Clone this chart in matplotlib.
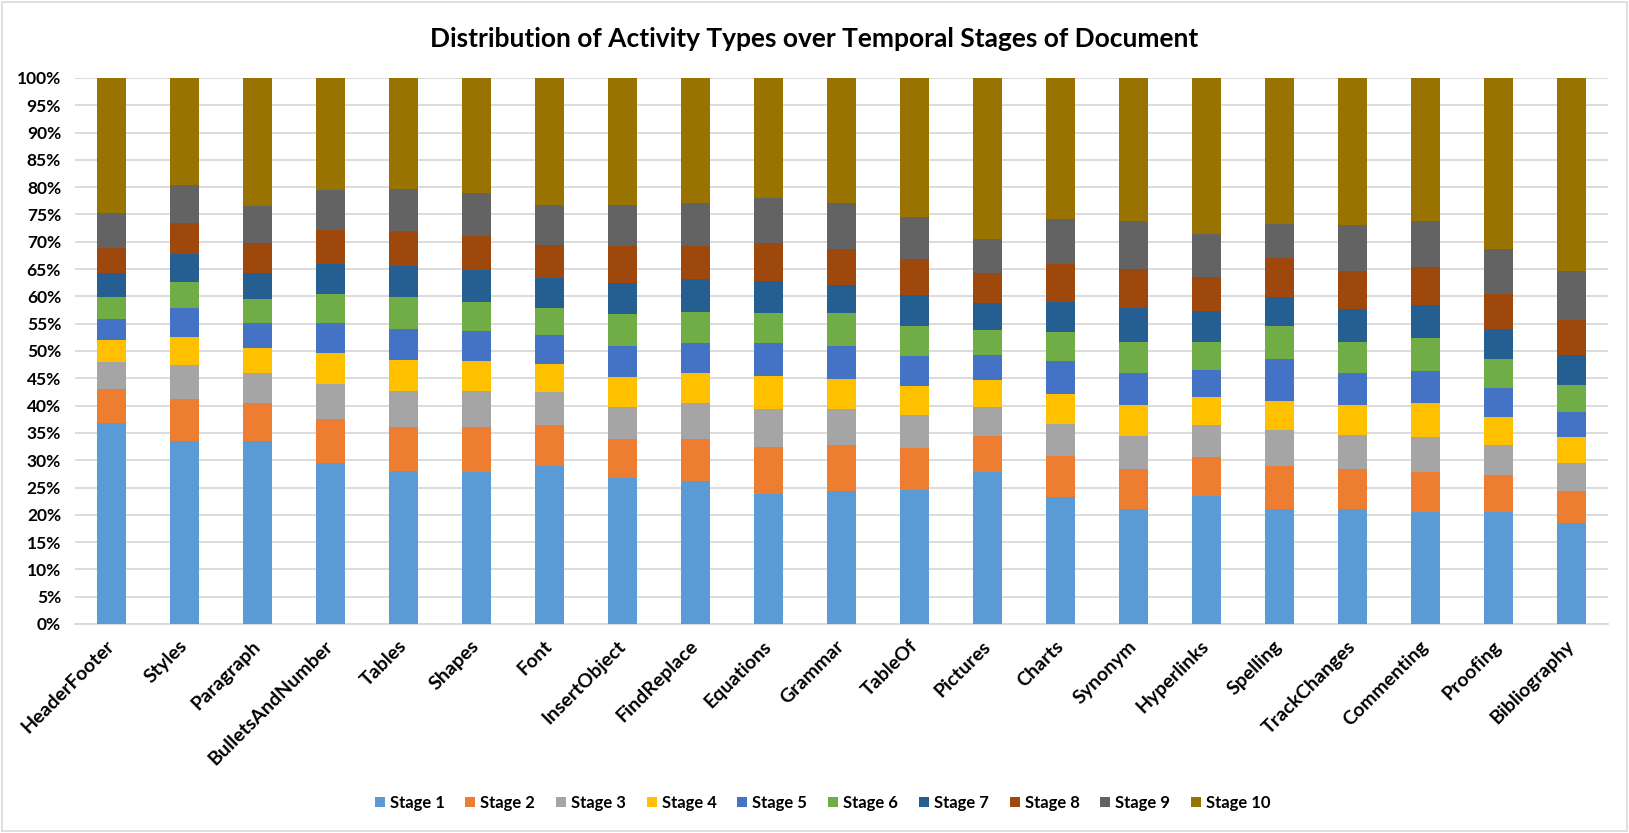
import matplotlib
matplotlib.use("Agg")
import matplotlib.pyplot as plt
from matplotlib.patches import Rectangle
from matplotlib.ticker import FuncFormatter, MultipleLocator
import numpy as np

plt.rcParams['font.family'] = ['Lato', 'DejaVu Sans']

categories = ["HeaderFooter", "Styles", "Paragraph", "BulletsAndNumber", "Tables", "Shapes",
              "Font", "InsertObject", "FindReplace", "Equations", "Grammar", "TableOf",
              "Pictures", "Charts", "Synonym", "Hyperlinks", "Spelling", "TrackChanges",
              "Commenting", "Proofing", "Bibliography"]

stage1 = [36.9, 33.6, 33.6, 29.4, 28.0, 27.9, 29.0, 26.8, 26.2, 23.9, 24.4, 24.6, 27.9, 23.2, 21.0, 23.5, 21.1, 21.1, 20.6, 20.6, 18.5]
stage2 = [6.2, 7.7, 6.9, 8.2, 8.1, 8.2, 7.5, 7.1, 7.7, 8.6, 8.4, 7.7, 6.6, 7.6, 7.3, 7.1, 7.9, 7.3, 7.3, 6.6, 5.9]
stage3 = [4.8, 6.1, 5.4, 6.4, 6.6, 6.5, 5.9, 5.8, 6.5, 6.8, 6.5, 6.0, 5.3, 5.9, 6.2, 5.8, 6.6, 6.2, 6.3, 5.6, 5.0]
stage4 = [4.2, 5.2, 4.7, 5.7, 5.7, 5.6, 5.3, 5.6, 5.6, 6.2, 5.5, 5.3, 4.8, 5.5, 5.7, 5.1, 5.2, 5.5, 6.2, 5.2, 4.8]
stage5 = [3.8, 5.2, 4.5, 5.4, 5.7, 5.5, 5.2, 5.7, 5.5, 5.9, 6.2, 5.4, 4.7, 5.9, 5.8, 5.1, 7.7, 5.8, 6.0, 5.3, 4.7]
stage6 = [4.0, 4.9, 4.4, 5.3, 5.7, 5.3, 5.0, 5.8, 5.6, 5.6, 6.0, 5.5, 4.6, 5.3, 5.7, 5.1, 6.1, 5.8, 5.9, 5.3, 4.9]
stage7 = [4.3, 5.1, 4.8, 5.6, 5.8, 5.9, 5.5, 5.7, 6.0, 5.8, 5.0, 5.8, 4.8, 5.6, 6.2, 5.6, 5.3, 6.0, 6.1, 5.5, 5.5]
stage8 = [4.7, 5.6, 5.4, 6.2, 6.4, 6.2, 6.0, 6.8, 6.2, 7.0, 6.6, 6.6, 5.5, 7.0, 7.1, 6.3, 7.2, 7.0, 7.0, 6.4, 6.4]
stage9 = [6.4, 7.0, 6.9, 7.3, 7.7, 7.8, 7.3, 7.4, 7.8, 8.3, 8.5, 7.6, 6.3, 8.2, 8.9, 7.9, 6.2, 8.4, 8.4, 8.2, 8.9]
stage10 = [24.7, 19.6, 23.4, 20.5, 20.3, 21.1, 23.3, 23.3, 22.9, 21.9, 22.9, 25.5, 29.5, 25.8, 26.1, 28.5, 26.7, 26.9, 26.2, 31.3, 35.4]

series_names = ["Stage 1", "Stage 2", "Stage 3", "Stage 4", "Stage 5",
                "Stage 6", "Stage 7", "Stage 8", "Stage 9", "Stage 10"]
series = [stage1, stage2, stage3, stage4, stage5, stage6, stage7, stage8, stage9, stage10]
colors = ["#5B9BD5", "#ED7D31", "#A5A5A5", "#FFC000", "#4472C4",
          "#70AD47", "#255E91", "#9E480E", "#636363", "#997300"]

W, H = 1629, 833
fig = plt.figure(figsize=(W / 100, H / 100), dpi=100)
ax = fig.add_axes([75 / W, (H - 624) / H, (1608 - 75) / W, (624 - 78) / H])

x = np.arange(len(categories))
data = np.array(series, dtype=float)
totals = data.sum(axis=0)
pct = data / totals * 100
bottom = np.zeros(len(categories))
for name, vals, c in zip(series_names, pct, colors):
    ax.bar(x, vals, width=0.41, bottom=bottom, color=c, label=name, linewidth=0, zorder=3)
    bottom += vals

ax.set_xlim(-0.5, len(categories) - 0.5)
ax.set_ylim(0, 100)
ax.yaxis.set_major_locator(MultipleLocator(5))
ax.yaxis.set_major_formatter(FuncFormatter(lambda v, p: f"{int(round(v))}%"))
ax.yaxis.grid(True, color="#D9D9D9", linewidth=1.3, zorder=0)
ax.set_axisbelow(True)
for s in ["top", "right", "left"]:
    ax.spines[s].set_visible(False)
ax.spines["bottom"].set_color("#D9D9D9")
ax.spines["bottom"].set_linewidth(1.3)
ax.tick_params(axis="both", length=0)
ax.tick_params(axis="y", pad=10, labelsize=12.5, labelcolor="#000000")
ax.set_xticks(x)
ax.set_xticklabels(categories, rotation=45, ha="right", va="center", rotation_mode="anchor",
                   fontsize=14, fontweight="bold")
ax.tick_params(axis="x", pad=14)
for lbl in ax.get_yticklabels():
    lbl.set_fontweight("bold")

fig.text(0.5, 1 - 39 / H, "Distribution of Activity Types over Temporal Stages of Document",
         ha="center", va="center", fontsize=19, fontweight="bold")

leg = fig.legend(loc="center", bbox_to_anchor=(0.505, 1 - 803 / H), ncol=10, frameon=False,
                 handlelength=0.6, handleheight=0.6, handletextpad=0.3, columnspacing=1.25,
                 prop={"size": 12, "weight": "bold"})

fig.patches.append(Rectangle((0.0015, 0.002), 0.997, 0.996, transform=fig.transFigure,
                             fill=False, edgecolor="#D9D9D9", linewidth=1.2))

fig.savefig("out.png", dpi=100, facecolor="white")
